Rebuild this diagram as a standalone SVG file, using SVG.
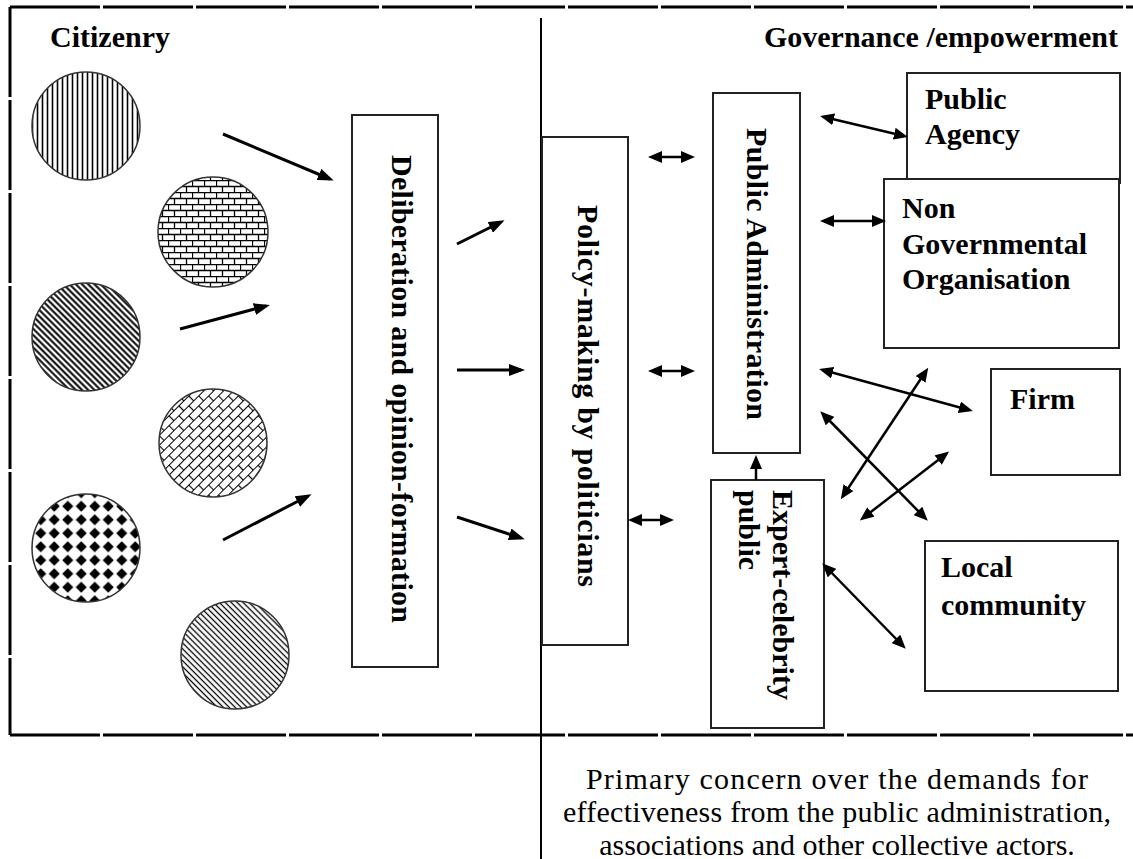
<svg xmlns="http://www.w3.org/2000/svg" width="1133" height="859" viewBox="0 0 1133 859">
<style>
.box{fill:#fff;stroke:#222;stroke-width:2}
.lbl{font-family:"Liberation Serif","Times New Roman",serif;font-weight:bold;font-size:30px;fill:#000}
.note{font-family:"Liberation Serif","Times New Roman",serif;font-size:30px;fill:#000}
.frm{stroke:#000;fill:none}
.circ{stroke:#333;stroke-width:1.5}
.arr{stroke:#000;stroke-width:3;fill:none;marker-end:url(#ah)}
.dbl{stroke:#000;stroke-width:2.5;fill:none;marker-start:url(#dh);marker-end:url(#dh)}
</style>
<defs>
<marker id="ah" markerWidth="16" markerHeight="12" refX="12" refY="6" orient="auto" markerUnits="userSpaceOnUse"><path d="M0,0 L16,6 L0,12 z" fill="#000"/></marker>
<marker id="dh" markerWidth="14" markerHeight="12" refX="10" refY="6" orient="auto-start-reverse" markerUnits="userSpaceOnUse"><path d="M0,0 L14,6 L0,12 z" fill="#000"/></marker>
<pattern id="pVert" width="5" height="10" patternUnits="userSpaceOnUse"><line x1="2.5" y1="0" x2="2.5" y2="10" stroke="#000" stroke-width="1.6"/></pattern>
<pattern id="pBrick" width="12" height="12" patternUnits="userSpaceOnUse"><path d="M0,0.5H12M0,6.5H12M0.5,0.5V6.5M6.5,6.5V12" stroke="#000" stroke-width="1.3" fill="none"/></pattern>
<pattern id="pDiagDark" width="4.4" height="10" patternUnits="userSpaceOnUse" patternTransform="rotate(-45)"><line x1="2.2" y1="0" x2="2.2" y2="10" stroke="#000" stroke-width="2"/></pattern>
<pattern id="pDiagLight" width="4.2" height="10" patternUnits="userSpaceOnUse" patternTransform="rotate(-45)"><line x1="2.1" y1="0" x2="2.1" y2="10" stroke="#000" stroke-width="1.3"/></pattern>
<pattern id="pBrickDiag" width="14" height="14" patternUnits="userSpaceOnUse" patternTransform="rotate(-45)"><path d="M0,0.5H14M0,7.5H14M0.5,0.5V7.5M7.5,7.5V14" stroke="#000" stroke-width="1.2" fill="none"/></pattern>
<pattern id="pDiamond" width="13.5" height="13.5" patternUnits="userSpaceOnUse" x="34" y="0"><polygon points="6.75,1.2 12.3,6.75 6.75,12.3 1.2,6.75" fill="#000"/></pattern>
</defs>
<rect width="1133" height="859" fill="#fff"/>
<g id="frame">
<line class="frm" x1="10" y1="7" x2="1133" y2="7" stroke-width="3" stroke-dasharray="90 3"/>
<line class="frm" x1="10" y1="7" x2="10" y2="735" stroke-width="3" stroke-dasharray="90 3"/>
<line class="frm" x1="10" y1="735" x2="1133" y2="735" stroke-width="3" stroke-dasharray="90 3"/>
<line class="frm" x1="541" y1="18" x2="541" y2="859" stroke-width="2"/>
</g>
<g id="titles">
<text class="lbl" x="50" y="47">Citizenry</text>
<text class="lbl" x="1118" y="47" text-anchor="end">Governance /empowerment</text>
</g>
<g id="citizens">
<circle id="c1" class="circ" cx="86" cy="126" r="54" fill="url(#pVert)"/>
<circle id="c2" class="circ" cx="213" cy="232" r="55" fill="url(#pBrick)"/>
<circle id="c3" class="circ" cx="86" cy="337" r="54" fill="url(#pDiagDark)"/>
<circle id="c4" class="circ" cx="213" cy="443" r="54" fill="url(#pBrickDiag)"/>
<circle id="c5" class="circ" cx="86" cy="548" r="54" fill="url(#pDiamond)"/>
<circle id="c6" class="circ" cx="235" cy="655" r="54" fill="url(#pDiagLight)"/>
</g>
<g id="deliberation">
<rect class="box" x="352" y="115" width="86" height="552"/>
<text class="lbl" transform="translate(392,389) rotate(90)" text-anchor="middle" textLength="468" lengthAdjust="spacing">Deliberation and opinion-formation</text>
</g>
<g id="policy">
<rect class="box" x="542" y="137" width="86" height="508"/>
<text class="lbl" transform="translate(578,396) rotate(90)" text-anchor="middle" textLength="382" lengthAdjust="spacing">Policy-making by politicians</text>
</g>
<g id="public-administration">
<rect class="box" x="713" y="93" width="87" height="360"/>
<text class="lbl" transform="translate(747,274) rotate(90)" text-anchor="middle" textLength="292" lengthAdjust="spacing">Public Administration</text>
</g>
<g id="expert">
<rect class="box" x="711" y="480" width="113" height="248"/>
<text class="lbl" transform="translate(773,490) rotate(90)"><tspan x="0" y="0">Expert-celebrity</tspan><tspan x="0" y="34">public</tspan></text>
</g>
<g id="public-agency">
<rect class="box" x="907" y="73" width="213" height="110"/>
<text class="lbl" x="925" y="109">Public</text>
<text class="lbl" x="925" y="144">Agency</text>
</g>
<g id="ngo">
<rect class="box" x="884" y="179" width="235" height="169"/>
<text class="lbl" x="902" y="218">Non</text>
<text class="lbl" x="902" y="254">Governmental</text>
<text class="lbl" x="902" y="289">Organisation</text>
</g>
<g id="firm">
<rect class="box" x="991" y="369" width="129" height="106"/>
<text class="lbl" x="1010" y="409">Firm</text>
</g>
<g id="local">
<rect class="box" x="925" y="541" width="193" height="150"/>
<text class="lbl" x="941" y="577">Local</text>
<text class="lbl" x="941" y="615">community</text>
</g>
<g id="connectors">
<path class="arr" d="M223,134 L330,179"/>
<path class="arr" d="M180,329 L266,306"/>
<path class="arr" d="M223,540 L308,496"/>
<path class="arr" d="M457,244 L501,222"/>
<path class="arr" d="M457,370 L521,370"/>
<path class="arr" d="M457,517 L521,538"/>
<path d="M756,480 L756,459" stroke="#000" stroke-width="2.5" marker-end="url(#dh)"/>
<path class="dbl" d="M652,157 L691,157"/>
<path class="dbl" d="M652,371 L691,371"/>
<path class="dbl" d="M632,520 L670,520"/>
<path class="dbl" d="M824,117 L904,136"/>
<path class="dbl" d="M824,221 L882,221"/>
<path class="dbl" d="M823,370 L969,410"/>
<path class="dbl" d="M843,496 L926,371"/>
<path class="dbl" d="M823,414 L925,518"/>
<path class="dbl" d="M863,518 L946,454"/>
<path class="dbl" d="M825,566 L903,646"/>
</g>
<g id="note">
<text class="note" x="837" y="789" text-anchor="middle" textLength="502" lengthAdjust="spacing">Primary concern over the demands for</text>
<text class="note" x="837" y="822" text-anchor="middle" textLength="548" lengthAdjust="spacing">effectiveness from the public administration,</text>
<text class="note" x="837" y="855" text-anchor="middle">associations and other collective actors.</text>
</g>
</svg>
